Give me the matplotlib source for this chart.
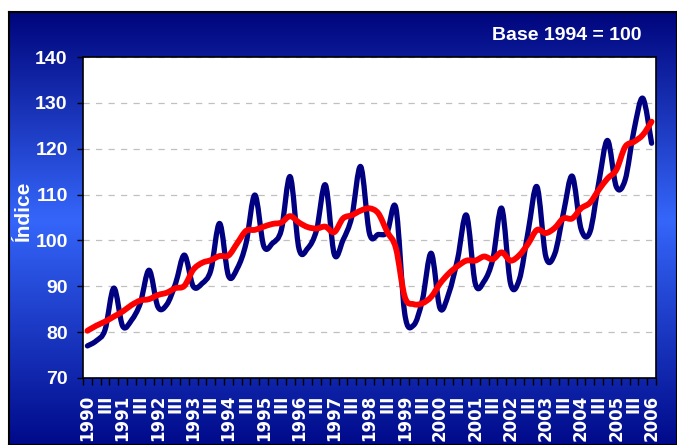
import numpy as np
import matplotlib.pyplot as plt
from matplotlib import font_manager
from matplotlib.colors import LinearSegmentedColormap
from matplotlib.path import Path
from matplotlib.patches import PathPatch

# Datos trimestrales 1990-I a 2006-I (base 1994 = 100)
years = list(range(1990, 2007))
indice = [77.0, 78.1, 80.5, 89.6, 81.3, 82.6, 86.3, 93.5,
          85.5, 86.0, 90.6, 96.8, 90.0, 90.6, 93.5, 103.7,
          92.3, 93.9, 99.4, 109.9, 98.8, 99.4, 102.3, 113.9,
          98.2, 98.3, 102.3, 112.1, 97.0, 100.1, 105.2, 116.1,
          101.5, 101.3, 101.8, 107.0, 84.0, 81.5, 87.0, 97.2,
          85.2, 88.5, 96.0, 105.5, 90.6, 91.1, 96.0, 107.0,
          90.6, 91.5, 102.0, 111.7, 96.5, 97.0, 106.0, 114.0,
          102.5, 101.8, 112.5, 121.8, 111.7, 113.2, 124.0, 131.0,
          121.2]
tendencia = [80.3, 81.4, 82.3, 83.4, 84.5, 85.9, 86.9, 87.2,
             88.1, 88.6, 89.6, 90.1, 93.6, 95.1, 95.7, 96.6,
             96.7, 99.4, 102.1, 102.3, 103.0, 103.6, 103.9, 105.3,
             103.9, 102.9, 102.6, 103.0, 101.8, 104.8, 105.5, 106.5,
             107.0, 105.9, 101.9, 98.3, 87.7, 86.1, 86.3, 87.7,
             90.6, 92.8, 94.4, 95.6, 95.6, 96.5, 95.9, 97.4,
             95.6, 96.8, 99.3, 102.3, 101.6, 102.7, 104.8, 104.8,
             107.0, 108.2, 111.0, 113.5, 115.4, 120.4, 121.5, 123.0,
             125.9]
yticks = [70, 80, 90, 100, 110, 120, 130, 140]

n = len(indice)
labels = []
for i in range(0, n, 2):
    labels.append(str(years[i // 4]) if i % 4 == 0 else "III")

names = {f.name for f in font_manager.fontManager.ttflist}
narrow = "Liberation Sans Narrow" if "Liberation Sans Narrow" in names else "Liberation Sans"


def smooth_path(x, y):
    # curva suavizada tipo Excel (Catmull-Rom -> Bezier)
    pts = np.column_stack([x, y])
    p = np.vstack([pts[0], pts, pts[-1]])
    verts = [pts[0]]
    codes = [Path.MOVETO]
    for k in range(1, len(p) - 2):
        c1 = p[k] + (p[k + 1] - p[k - 1]) / 6
        c2 = p[k + 1] - (p[k + 2] - p[k]) / 6
        verts += [c1, c2, p[k + 1]]
        codes += [Path.CURVE4] * 3
    return Path(verts, codes)


fig = plt.figure(figsize=(6.77, 4.45), dpi=100)

# fondo azul degradado
bg = fig.add_axes([9 / 677, 0, 668 / 677, 433 / 445], zorder=0)
cmap = LinearSegmentedColormap.from_list(
    "azul", [(0, "#00057c"), (0.48, "#3566fa"), (1, "#000a8a")])
bg.imshow(np.linspace(0, 1, 256).reshape(-1, 1), cmap=cmap, aspect="auto",
          extent=[0, 1, 0, 1], origin="upper")
bg.set_xticks([])
bg.set_yticks([])
for s in bg.spines.values():
    s.set_color("black")
    s.set_linewidth(1.5)

ax = fig.add_axes([83 / 677, 1 - 378 / 445, 573 / 677, 321 / 445], zorder=1)
ax.set_facecolor("white")
x = np.arange(n)
ax.add_patch(PathPatch(smooth_path(x, indice), fill=False, edgecolor="#000080",
                       linewidth=3.8, capstyle="round", joinstyle="round", zorder=3))
ax.add_patch(PathPatch(smooth_path(x, tendencia), fill=False, edgecolor="#ff0000",
                       linewidth=4.2, capstyle="round", joinstyle="round", zorder=4))

ax.set_xlim(-0.5, n - 0.5)
ax.set_ylim(70, 140)
ax.set_yticks(yticks)
ax.set_yticklabels([str(v) for v in yticks], color="white", fontweight="bold",
                   fontsize=14, family=narrow)
ax.grid(axis="y", color="#c0c0c0", linestyle=(0, (5, 5)), linewidth=0.9)
ax.set_axisbelow(True)

ax.set_xticks(np.arange(n + 1) - 0.5)
ax.set_xticklabels([])
ax.set_xticks(np.arange(0, n, 2), minor=True)
ax.set_xticklabels(labels, minor=True, rotation=90, color="white",
                   fontweight="bold", fontsize=12, family="DejaVu Sans", va="top")
ax.tick_params(axis="x", which="major", direction="out", length=5, width=1, color="black")
ax.tick_params(axis="x", which="minor", length=0, pad=12)
ax.tick_params(axis="y", direction="out", length=4, width=1, color="black", pad=7)
for s in ax.spines.values():
    s.set_color("black")
    s.set_linewidth(1.2)

fig.text(23 / 677, 1 - 211 / 445, "Índice", color="white", fontweight="bold",
         fontsize=15, family=narrow, rotation=90, ha="center", va="center")
fig.text(642 / 677, 1 - 36 / 445, "Base 1994 = 100", color="white",
         fontweight="bold", fontsize=14, family=narrow, ha="right", va="center")

fig.savefig("out.png", dpi=100)
